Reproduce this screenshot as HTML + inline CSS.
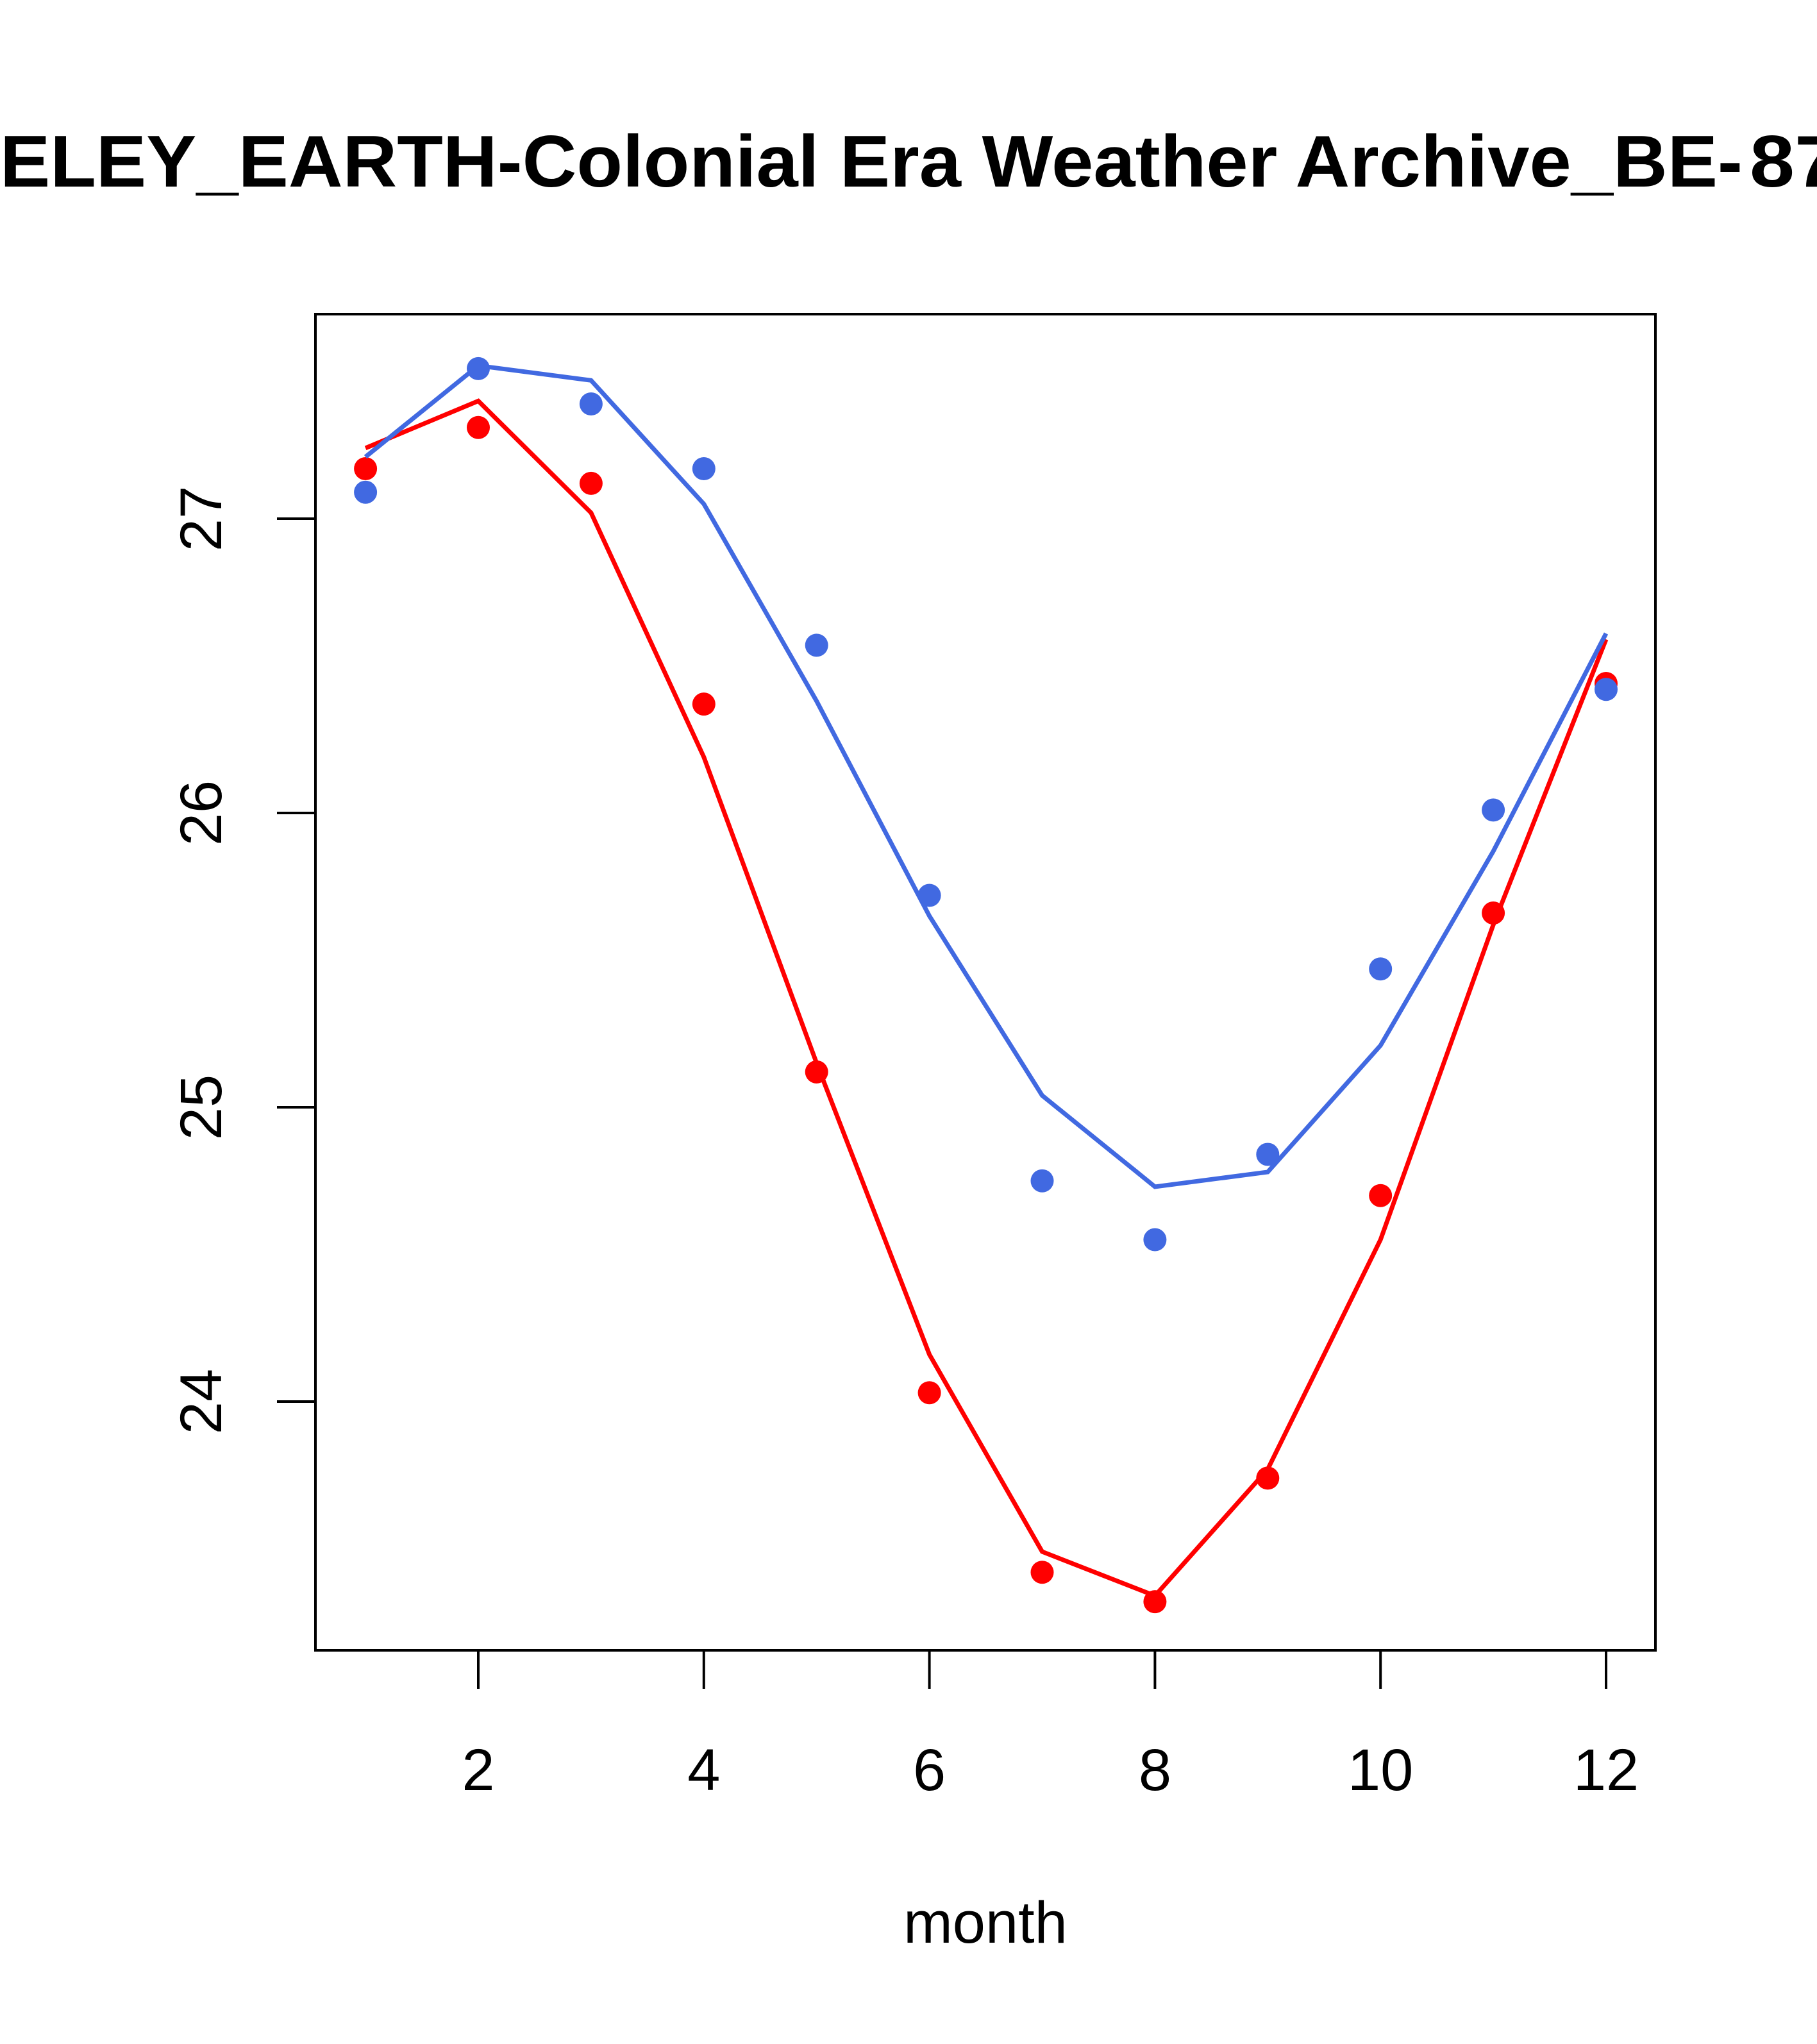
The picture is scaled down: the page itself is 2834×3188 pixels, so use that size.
<!DOCTYPE html>
<html><head><meta charset="utf-8"><style>
html,body{margin:0;padding:0;background:#fff;}
svg{display:block;font-family:"Liberation Sans",Arial,sans-serif;}
</style></head><body>
<svg id="chart" width="2834" height="3188" viewBox="0 0 2834 3188" xmlns="http://www.w3.org/2000/svg">
<g font-size="114" font-weight="bold">
<text x="-4" y="291" text-anchor="end">BERK</text>
<text x="0" y="291" textLength="2718" lengthAdjust="spacingAndGlyphs">ELEY_EARTH-Colonial Era Weather Archive_BE-</text>
<text x="2729" y="291" textLength="280" lengthAdjust="spacingAndGlyphs">8734</text>
</g>
<rect x="492" y="490" width="2090" height="2084" fill="none" stroke="#000" stroke-width="4"/>
<g id="xaxis"></g>
<g id="yaxis"></g>
<g id="series"></g>
<text x="1537" y="3030" text-anchor="middle" font-size="92">month</text>
</svg>
<script>
const months = [1,2,3,4,5,6,7,8,9,10,11,12];
const xTicks = [2,4,6,8,10,12];
const yTicks = [24,25,26,27];
const redPoints = [27.17,27.31,27.12,26.37,25.12,24.03,23.42,23.32,23.74,24.70,25.66,26.44];
const redLine = [27.24,27.40,27.02,26.19,25.15,24.16,23.49,23.34,23.77,24.55,25.62,26.59];
const bluePoints = [27.09,27.51,27.39,27.17,26.57,25.72,24.75,24.55,24.84,25.47,26.01,26.42];
const blueLine = [27.21,27.52,27.47,27.05,26.38,25.65,25.04,24.73,24.78,25.21,25.87,26.61];

const NS = "http://www.w3.org/2000/svg";
function xs(m){ return 746 + (m-2)*175.9; }
function ys(v){ return 809 - (v-27)*459; }
function mk(tag, attrs, parent){
  const e = document.createElementNS(NS, tag);
  for (const k in attrs) e.setAttribute(k, attrs[k]);
  parent.appendChild(e); return e;
}
const xa = document.getElementById('xaxis');
const ya = document.getElementById('yaxis');
const sr = document.getElementById('series');

const xl = mk('line',{x1:xs(2),x2:xs(12),y1:2574,y2:2574,stroke:'#000','stroke-width':4},xa);


xTicks.forEach(t=>{
  const l = mk('line',{x1:xs(t),x2:xs(t),y1:2574,y2:2634,stroke:'#000','stroke-width':4},xa);
  
  
  const tx = mk('text',{x:xs(t),y:2792,'text-anchor':'middle','font-size':92},xa);
  tx.textContent = t;
  
  
});
const yl = mk('line',{x1:492,x2:492,y1:ys(24),y2:ys(27),stroke:'#000','stroke-width':4},ya);


yTicks.forEach(t=>{
  const l = mk('line',{x1:432,x2:492,y1:ys(t),y2:ys(t),stroke:'#000','stroke-width':4},ya);
  
  
  const tx = mk('text',{x:0,y:0,'text-anchor':'middle','font-size':92,transform:`translate(345,${ys(t)}) rotate(-90)`},ya);
  tx.textContent = t;
  
  
});
function drawSeries(line, pts, color, name){
  const pl = mk('polyline',{points:months.map((m,i)=>xs(m)+','+ys(line[i])).join(' '),fill:'none',stroke:color,'stroke-width':7},sr);
  
  
  months.forEach((m,i)=>{
    const c = mk('circle',{cx:xs(m),cy:ys(pts[i]),r:18,fill:color},sr);
    
    
  });
}
drawSeries(redLine, redPoints, '#ff0000', 'red-series');
drawSeries(blueLine, bluePoints, '#4169e1', 'blue-series');
</script>
</body></html>
